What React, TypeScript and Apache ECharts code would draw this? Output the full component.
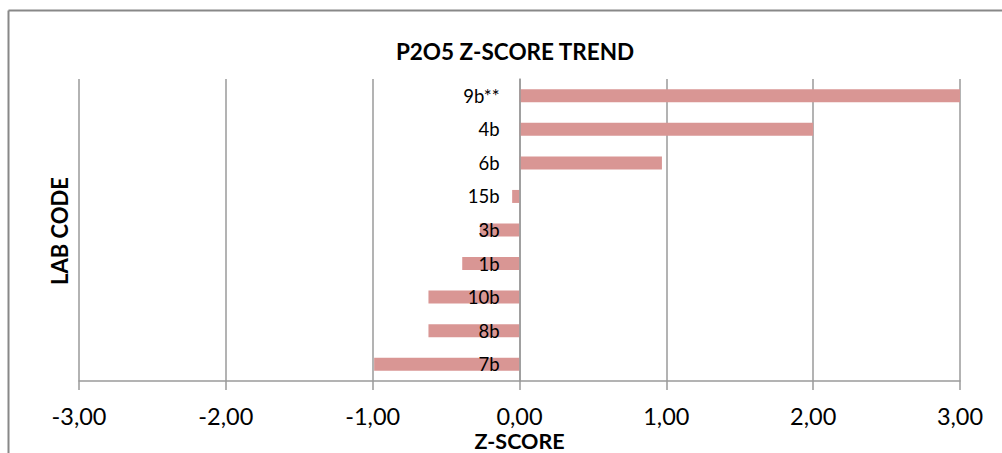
import React, { useEffect, useRef } from "react";
import * as echarts from "echarts";

const categories = ["7b", "8b", "10b", "1b", "3b", "15b", "6b", "4b", "9b**"];
const zScores = [-0.99, -0.62, -0.62, -0.39, -0.27, -0.05, 0.97, 2.0, 3.01];
const xTicks = [-3, -2, -1, 0, 1, 2, 3];
const titleText = "P2O5 Z-SCORE TREND";
const xName = "Z-SCORE";
const yName = "LAB CODE";

const FONT = "Lato";

export default function App() {
  const ref = useRef<HTMLDivElement>(null);
  useEffect(() => {
    if (!ref.current) return;
    const chart = echarts.init(ref.current, null, { renderer: "svg" });
    chart.setOption({
      animation: false,
      backgroundColor: "#ffffff",
      title: {
        text: titleText,
        left: 510,
        textAlign: "center",
        top: 35,
        textStyle: { fontFamily: FONT, fontWeight: "bold", fontSize: 22.5, color: "#000" },
      },
      grid: { left: 79, right: 42, top: 79, bottom: 72, containLabel: false },
      xAxis: {
        type: "value",
        min: xTicks[0],
        max: xTicks[xTicks.length - 1],
        interval: 1,
        axisLine: { show: true, onZero: false, lineStyle: { color: "#9a9a9a", width: 1.5 } },
        axisTick: { show: true, length: 9, lineStyle: { color: "#9a9a9a", width: 1.5 } },
        splitLine: { show: true, lineStyle: { color: "#9a9a9a", width: 1.5 } },
        axisLabel: {
          margin: 24,
          fontFamily: FONT,
          fontSize: 23.5,
          lineHeight: 22,
          color: "#000",
          formatter: (v: number) => v.toFixed(2).replace(".", ","),
        },
      },
      yAxis: {
        type: "category",
        data: categories,
        z: 10,
        offset: -440.5,
        axisLine: { show: true, onZero: false, lineStyle: { color: "#9a9a9a", width: 1.5 } },
        axisTick: { show: false },
        splitLine: { show: false },
        axisLabel: { margin: 20, fontFamily: FONT, fontSize: 18.5, color: "#000" },
      },
      series: [
        {
          type: "bar",
          data: zScores,
          barWidth: 13,
          itemStyle: { color: "#d99694" },
        },
      ],
      graphic: [
        {
          type: "line",
          shape: { x1: 8.5, y1: 10.5, x2: 1010, y2: 10.5 },
          style: { stroke: "#888888", lineWidth: 2 },
        },
        {
          type: "line",
          shape: { x1: 8.5, y1: 10.5, x2: 8.5, y2: 460 },
          style: { stroke: "#888888", lineWidth: 2 },
        },
        {
          type: "text",
          x: 519.5,
          y: 440.5,
          style: {
            text: xName,
            fontFamily: FONT,
            fontWeight: "bold",
            fontSize: 21.5,
            lineHeight: 20,
            fill: "#000",
            align: "center",
            verticalAlign: "middle",
          },
        },
        {
          type: "text",
          x: 59,
          y: 231,
          rotation: Math.PI / 2,
          style: {
            text: yName,
            fontFamily: FONT,
            fontWeight: "bold",
            fontSize: 22,
            fill: "#000",
            align: "center",
            verticalAlign: "middle",
          },
        },
      ],
    });
    return () => chart.dispose();
  }, []);
  return (
    <div
      ref={ref}
      style={{ position: "absolute", left: 0, top: 0, width: 1002, height: 453 }}
    />
  );
}
